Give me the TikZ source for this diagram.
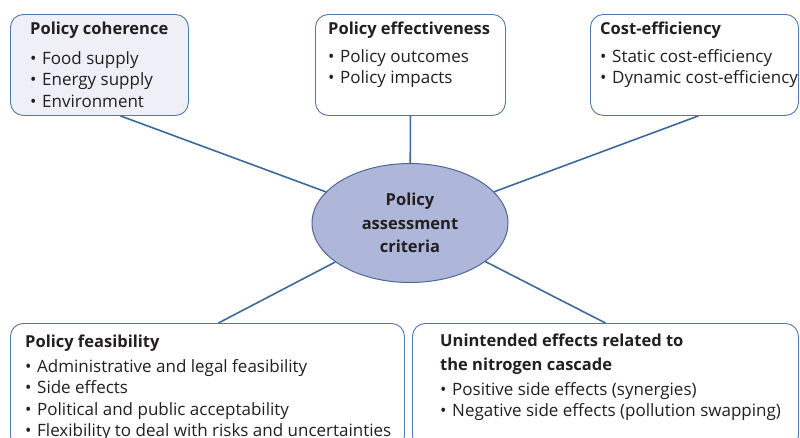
\documentclass[tikz,border=0pt]{standalone}
\usepackage{fontspec}
\setmainfont{Open Sans}
\usetikzlibrary{shapes.geometric,positioning}
\definecolor{edgeblue}{HTML}{3D6A98}
\definecolor{boxblue}{HTML}{5079A8}
\definecolor{cohfill}{HTML}{EEEFF7}
\definecolor{hubfill}{HTML}{AEB6DA}
\definecolor{hubline}{HTML}{4D6894}
\definecolor{ink}{HTML}{231F20}
\tikzset{
  crit/.style={
    draw = boxblue,
    line width = 0.9pt,
    rounded corners = 13pt,
    fill = white,
    anchor = north west,
    inner sep = 0pt
  },
  crittext/.style={
    anchor = base west,
    inner sep = 0pt,
    text = ink,
    font = \fontsize{17}{21.5}\selectfont
  },
  hub/.style={
    ellipse,
    draw = hubline,
    line width = 1pt,
    fill = hubfill,
    minimum width = 196,
    minimum height = 119,
    align = center,
    text = ink,
    font = \bfseries\fontsize{16.5}{23.5}\selectfont
  },
  spoke/.style={
    draw = edgeblue,
    line width = 1.6pt
  }
}
\newcommand{\itm}[1]{\makebox[12pt][l]{\textbullet}#1}
\newcommand{\hd}[1]{{\fontsize{16.5}{21.5}\selectfont\bfseries #1}}

\begin{document}
\begin{tikzpicture}[x=1pt,y=-1pt]
\path[use as bounding box, clip] (0,0) rectangle (800,437);
\fill[white] (0,0) rectangle (800,437);
% the five criteria boxes
\node[crit, fill=cohfill, minimum width=178, minimum height=101] (coh) at (10,14) {};
\node[crit, minimum width=190, minimum height=101] (eff) at (315,14) {};
\node[crit, minimum width=208, minimum height=101] (cost) at (590,14) {};
\node[crit, minimum width=394, minimum height=125] (feas) at (10,323) {};
\node[crit, minimum width=386, minimum height=125] (side) at (412,323) {};
\node[crittext] (cohtext) at (30,34) {\parbox[t]{380pt}{%
  \hd{Policy coherence}\\[8.5pt]
  \itm{Food supply}\\
  \itm{Energy supply}\\
  \itm{Environment}}};
\node[crittext] (efftext) at (328,34) {\parbox[t]{380pt}{%
  \hd{Policy effectiveness}\\[6.5pt]
  \itm{Policy outcomes}\\
  \itm{Policy impacts}}};
\node[crittext] (costtext) at (600,34) {\parbox[t]{380pt}{%
  \hd{Cost-efficiency}\\[6.5pt]
  \itm{Static cost-efficiency}\\
  \itm{Dynamic cost-efficiency}}};
\node[crittext] (feastext) at (25,347) {\parbox[t]{420pt}{%
  \hd{Policy feasibility}\\[3.5pt]
  \itm{Administrative and legal feasibility}\\
  \itm{Side effects}\\
  \itm{Political and public acceptability}\\
  \itm{Flexibility to deal with risks and uncertainties}}};
\node[crittext] (sidetext) at (440,346) {\parbox[t]{380pt}{%
  \hd{Unintended effects related to}\\[2.5pt]
  \hd{the nitrogen cascade}\\[3.5pt]
  \hspace{3pt}\itm{Positive side effects (synergies)}\\
  \hspace{3pt}\itm{Negative side effects (pollution swapping)}}};
% centre
\node[hub] (hub) at (410,223) {Policy\\assessment\\criteria};
% spokes
\draw[spoke] ([xshift=21pt]coh.south) -- (hub);
\draw[spoke] (eff.south) -- (hub);
\draw[spoke] ([xshift=4pt]cost.south) -- (hub);
\draw[spoke] ([xshift=11pt]feas.north) -- (hub);
\draw[spoke] (side.north) -- (hub);
\end{tikzpicture}
\end{document}
